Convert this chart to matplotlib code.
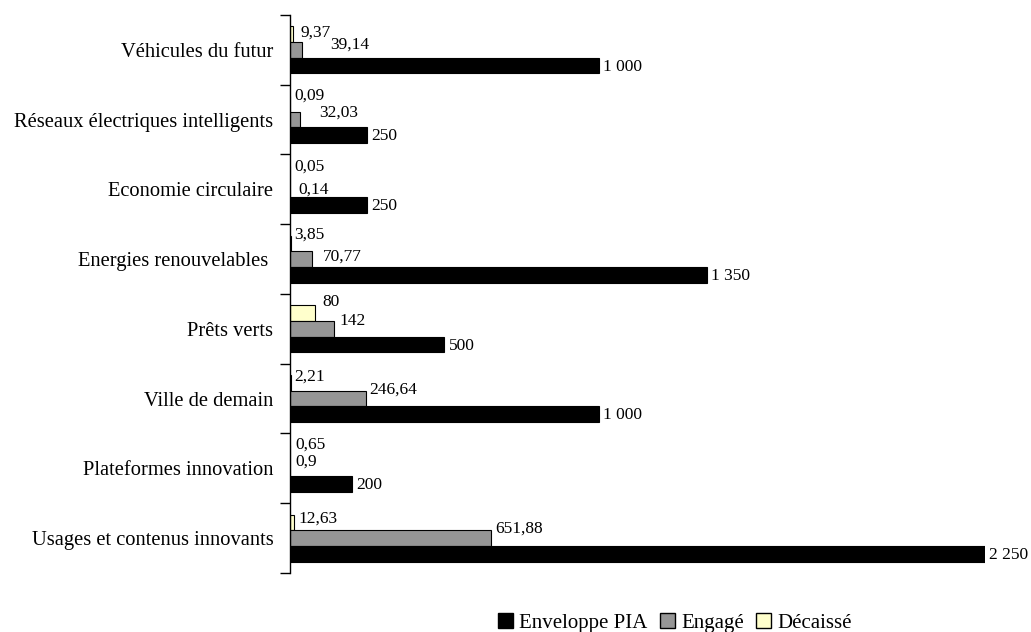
import matplotlib
matplotlib.use("Agg")
import matplotlib.pyplot as plt
from matplotlib.patches import Patch

plt.rcParams['font.family'] = ['Liberation Serif', 'DejaVu Serif']

categories = ['Véhicules du futur', 'Réseaux électriques intelligents', 'Economie circulaire',
              'Energies renouvelables ', 'Prêts verts', 'Ville de demain',
              'Plateformes innovation', 'Usages et contenus innovants']
enveloppe = [1000, 250, 250, 1350, 500, 1000, 200, 2250]
engage = [39.14, 32.03, 0.14, 70.77, 142, 246.64, 0.9, 651.88]
decaisse = [9.37, 0.09, 0.05, 3.85, 80, 2.21, 0.65, 12.63]

# label nudges in pixels (dx right, dy up), hand-placed in the original
decaisse_dx = [8, 4, 4, 3, 8, 4, 5, 5]
decaisse_dy = [2, 8.5, 7, 8.5, 11, 6, 7.7, 4]
engage_dx = [28, 19, 8, 11, 6, 3, 5, 4]
engage_dy = [5.4, 6.5, 0, 2.5, 8, 8.6, 7, 9]
enveloppe_dx = [4] * 8
enveloppe_dy = [-1] * 8


def fmt(v):
    if float(v).is_integer():
        return f"{int(v):,}".replace(",", " ")
    return f"{v:g}".replace(".", ",")


fig = plt.figure(figsize=(10.31, 6.32), dpi=100)
ax = fig.add_axes([290 / 1031, 1 - 573 / 632, 695 / 1031, 558 / 632])

h = 0.225
pos = list(range(len(categories)))
series = [
    (decaisse, -h, '#FFFFCC', decaisse_dx, decaisse_dy),
    (engage, 0, '#969696', engage_dx, engage_dy),
    (enveloppe, h, '#000000', enveloppe_dx, enveloppe_dy),
]
for vals, off, col, dxs, dys in series:
    ys = [p + off for p in pos]
    ax.barh(ys, vals, height=h, color=col, edgecolor='black', linewidth=0.8)
    for y, v, dx, dy in zip(ys, vals, dxs, dys):
        ax.annotate(fmt(v), (v, y), xytext=(dx * 0.72, dy * 0.72), textcoords='offset points',
                    ha='left', va='center', fontsize=12.5, annotation_clip=False)

ax.set_xlim(0, 2250)
ax.set_ylim(len(categories) - 0.5, -0.5)
ax.set_xticks([])
ax.set_yticks([p - 0.5 for p in range(len(categories) + 1)])
ax.set_yticklabels([])
ax.tick_params(axis='y', which='major', length=7, width=1, direction='out')
ax.set_yticks(pos, minor=True)
ax.set_yticklabels(categories, minor=True, fontsize=14.8)
ax.tick_params(axis='y', which='minor', length=0, pad=12)
for s in ['top', 'right', 'bottom']:
    ax.spines[s].set_visible(False)
ax.spines['left'].set_linewidth(1)

handles = [Patch(facecolor='#000000', edgecolor='black', label='Enveloppe PIA'),
           Patch(facecolor='#969696', edgecolor='black', label='Engagé'),
           Patch(facecolor='#FFFFCC', edgecolor='black', label='Décaissé')]
fig.legend(handles=handles, loc='center', bbox_to_anchor=(675 / 1031, 1 - 623 / 632),
           ncol=3, frameon=False, fontsize=15, handlelength=0.7, handleheight=0.7,
           handletextpad=0.3, columnspacing=0.6, borderpad=0)

fig.savefig('out.png', dpi=100)
